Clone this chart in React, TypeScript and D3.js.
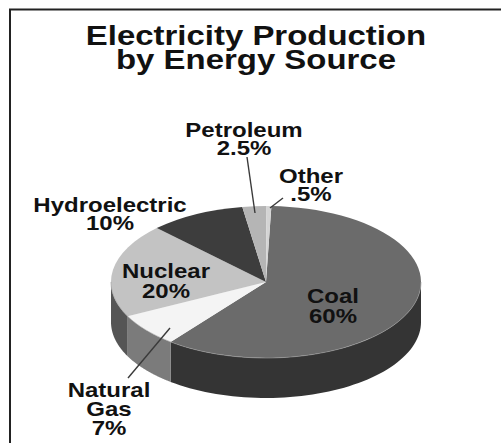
import React, { Component } from "react";
import * as d3 from "d3";

// chart data
const titleLines = ["Electricity Production", "by Energy Source"];
const sources = ["Coal", "Natural Gas", "Nuclear", "Hydroelectric", "Petroleum", "Other"];
const shares = [60, 7, 20, 10, 2.5, 0.5];
const shareLabels = ["60%", "7%", "20%", "10%", "2.5%", ".5%"];

// styling
const topColors = ["#6b6b6b", "#f4f4f4", "#c3c3c3", "#3d3d3d", "#b5b5b5", "#d4d4d4"];
const sideColors = ["#343434", "#7b7b7b", "#555555", "#2a2a2a", "#888888", "#999999"];

// where each label sits (center x, first baseline, line height)
const labelPos: Record<string, { x: number; y: number; lh: number }> = {
	Coal: { x: 333, y: 303, lh: 20 },
	"Natural Gas": { x: 109, y: 397, lh: 19 },
	Nuclear: { x: 166, y: 278, lh: 20 },
	Hydroelectric: { x: 110, y: 212, lh: 18 },
	Petroleum: { x: 244, y: 137, lh: 18 },
	Other: { x: 311, y: 183, lh: 18 },
};
const leaders: Record<string, number[]> = {
	"Natural Gas": [170, 328, 128, 378],
	Petroleum: [247, 157, 255, 213],
	Other: [283, 198, 270, 208],
};

const W = 501;
const H = 443;
const cx = 266;
const cy = 282;
const rx = 155;
const ry = 76;
const depth = 40;
const font = "'Liberation Sans', Arial, sans-serif";

class PieChart3D extends Component {
	svgRef = React.createRef<SVGSVGElement>();

	componentDidMount() {
		const svg = d3.select(this.svgRef.current);
		svg.selectAll("*").remove();

		svg.append("rect").attr("width", W).attr("height", H).attr("fill", "#fff");
		// frame (only top and left edges show)
		svg.append("rect")
			.attr("x", 10)
			.attr("y", 9.5)
			.attr("width", 600)
			.attr("height", 600)
			.attr("fill", "none")
			.attr("stroke", "#222")
			.attr("stroke-width", 2);

		const rot = (2 * Math.PI) / 180;
		const pie = d3
			.pie<number>()
			.sort(null)
			.startAngle(rot)
			.endAngle(2 * Math.PI + rot);
		const arcs = pie(shares);

		const px = (a: number) => cx + rx * Math.sin(a);
		const py = (a: number) => cy - ry * Math.cos(a);

		// sides (front half only)
		const sides = svg.append("g");
		arcs.forEach((d, i) => {
			const a0 = Math.max(d.startAngle, Math.PI / 2);
			const a1 = Math.min(d.endAngle, (3 * Math.PI) / 2);
			if (a1 <= a0) return;
			const steps = 60;
			const ang = d3.range(steps + 1).map((k) => a0 + ((a1 - a0) * k) / steps);
			const pts: [number, number][] = ang.map((a) => [px(a), py(a)]);
			const bottom: [number, number][] = ang
				.slice()
				.reverse()
				.map((a) => [px(a), py(a) + depth]);
			sides.append("path")
				.attr("d", d3.line()([...pts, ...bottom]) + "Z")
				.attr("fill", sideColors[i]);
		});

		// top faces
		const arc = d3.arc<d3.PieArcDatum<number>>().innerRadius(0).outerRadius(rx);
		svg.append("g")
			.attr("transform", `translate(${cx},${cy}) scale(1,${ry / rx})`)
			.selectAll("path")
			.data(arcs)
			.enter()
			.append("path")
			.attr("d", (d) => arc(d))
			.attr("fill", (d, i) => topColors[i]);

		// light rim along front edge
		const rim = d3.range(0, 121).map((k) => Math.PI / 2 + (Math.PI * k) / 120);
		svg.append("path")
			.attr("d", d3.line()(rim.map((a) => [px(a), py(a)] as [number, number])))
			.attr("fill", "none")
			.attr("stroke", "#9a9a9a")
			.attr("stroke-width", 1)
			.attr("opacity", 0.6);

		// leader lines
		Object.keys(leaders).forEach((k) => {
			const [x1, y1, x2, y2] = leaders[k];
			svg.append("line")
				.attr("x1", x1)
				.attr("y1", y1)
				.attr("x2", x2)
				.attr("y2", y2)
				.attr("stroke", "#3a3a3a")
				.attr("stroke-width", 1.4);
		});

		// multi-line text block, stretched sideways like the original
		const addBlock = (lines: string[], x: number, y: number, lh: number, size: number, sx: number) => {
			const t = svg.append("text")
				.attr("transform", `translate(${x},${y}) scale(${sx},1)`)
				.attr("text-anchor", "middle")
				.attr("font-family", font)
				.attr("font-weight", "bold")
				.attr("font-size", size)
				.attr("fill", "#111");
			lines.forEach((l, j) => {
				t.append("tspan").attr("x", 0).attr("dy", j === 0 ? 0 : lh).text(l);
			});
		};

		addBlock(titleLines, 256, 45, 24, 27, 1.22);

		sources.forEach((s, i) => {
			const p = labelPos[s];
			const lines = s === "Natural Gas" ? s.split(" ") : [s];
			lines.push(shareLabels[i]);
			addBlock(lines, p.x, p.y, p.lh, 20, 1.2);
		});
	}

	render() {
		return (
			<svg
				ref={this.svgRef}
				width={W}
				height={H}
				style={{ position: "absolute", left: 0, top: 0 }}
			></svg>
		);
	}
}

export default function App() {
	return <PieChart3D />;
}
